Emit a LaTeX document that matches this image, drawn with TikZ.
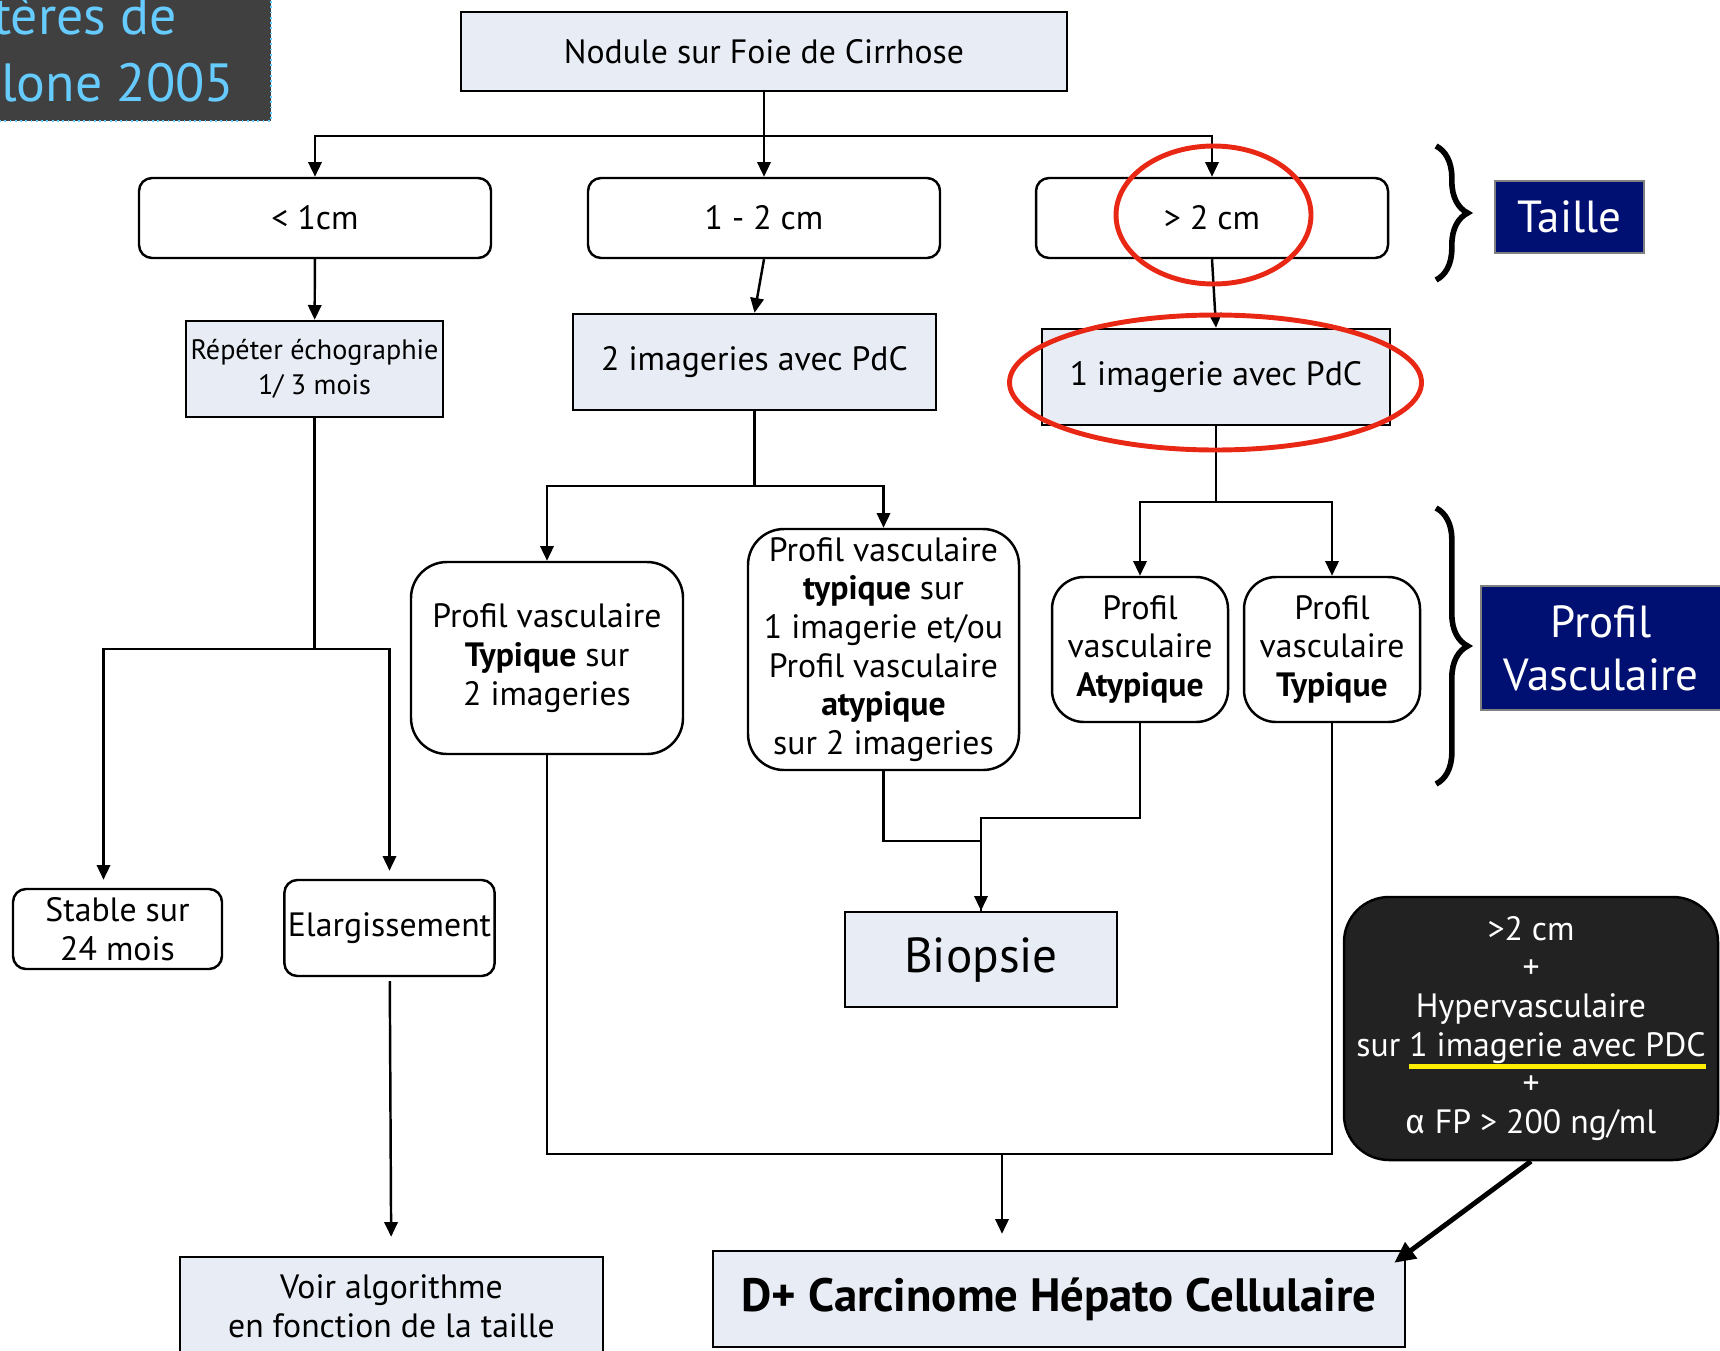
\documentclass[tikz,border=0pt]{standalone}
\usepackage{fontspec}
\setmainfont{PT Sans}
\newfontfamily\greekfont{Fira Sans}
\usepackage{tikz}
\usetikzlibrary{arrows.meta,decorations.pathreplacing}
\usepackage{xcolor}
\definecolor{boxfill}{RGB}{232,236,244}
\definecolor{taillenavy}{RGB}{0,16,114}
\definecolor{titlegray}{RGB}{64,64,64}
\definecolor{titlecyan}{RGB}{102,204,255}
\definecolor{nightbox}{RGB}{34,34,34}
\definecolor{circlered}{RGB}{232,40,20}
\definecolor{hlyellow}{RGB}{255,238,0}
\newlength{\ylen}
\newcommand{\yline}[1]{\settowidth{\ylen}{#1}\rlap{\textcolor{hlyellow}{\rule[-3.5pt]{\ylen}{1.4pt}}}#1}

\begin{document}
\begin{tikzpicture}[x=0.1mm,y=-0.1mm,line width=0.7pt,>={Triangle[length=4.2pt,width=3.8pt]},
  every node/.style={font=\fontsize{9.6}{11}\selectfont,inner sep=1pt,align=center},
  plain/.style={draw,fill=boxfill},
  sizebox/.style={draw,rounded corners=1.3mm,minimum width=35.2mm,minimum height=8mm},
  profil/.style={draw,rounded corners=3.2mm},
  tag/.style={draw=gray,fill=taillenavy,text=white,font=\fontsize{12.8}{15}\selectfont},
  ring/.style={draw=circlered,line width=1.4pt},
  gap/.style={shorten >=0.8mm}]
\useasboundingbox (0,0) rectangle (1720,1350);
\clip (0,0) rectangle (1720,1350);

% title block, cut by the page edge
\fill[titlegray] (-20,-20) rectangle (271,121);
\draw[titlecyan,densely dotted,line width=0.5pt] (271,-20) -- (271,121) -- (-20,121);
\node[anchor=base west,inner sep=0pt,text=titlecyan,font=\fontsize{15.3}{18}\selectfont] (ttl1) at (-8,35) {tères de};
\node[anchor=base west,inner sep=0pt,text=titlecyan,font=\fontsize{15.3}{18}\selectfont] (ttl2) at (0,101) {lone 2005};

\node[plain,minimum width=60.6mm,minimum height=7.9mm] (nodule) at (764,51.5) {Nodule sur Foie de Cirrhose};
\node[sizebox] (lt1) at (315,218) {< 1cm};
\node[sizebox] (mid) at (764,218) {1 - 2 cm};
\node[sizebox] (gt2) at (1212,218) {> 2 cm};

\node[plain,minimum width=25.7mm,minimum height=9.6mm,font=\fontsize{8}{10}\selectfont] (rep) at (314.5,369) {Répéter échographie\\1/ 3 mois};
\node[plain,minimum width=36.3mm,minimum height=9.6mm] (two) at (754.5,362) {2 imageries avec PdC};
\node[plain,minimum width=34.8mm,minimum height=9.6mm] (one) at (1216,377) {1 imagerie avec PdC};

\node[draw,rounded corners=1.3mm,minimum width=20.9mm,minimum height=8mm] (stable) at (117.5,929) {Stable sur\\24 mois};
\node[draw,rounded corners=1.3mm,minimum width=20.9mm,minimum height=9.6mm] (elarg) at (389.5,928) {Elargissement};
\node[plain,minimum width=42.3mm,minimum height=9.8mm] (voir) at (391.5,1306) {Voir algorithme\\en fonction de la taille};

\node[profil,rounded corners=3.6mm,minimum width=27.2mm,minimum height=19.2mm] (typ2) at (547,658) {Profil vasculaire\\\textbf{Typique} sur\\2 imageries};
\node[profil,rounded corners=3.6mm,minimum width=27.1mm,minimum height=24.1mm] (typat) at (883.5,649.5) {Profil vasculaire\\\textbf{typique} sur\\1 imagerie et/ou\\Profil vasculaire\\\textbf{atypique}\\sur 2 imageries};
\node[profil,minimum width=17.6mm,minimum height=14.5mm] (atyp) at (1140,649.5) {Profil\\vasculaire\\\textbf{Atypique}};
\node[profil,minimum width=17.6mm,minimum height=14.5mm] (typ1) at (1332,649.5) {Profil\\vasculaire\\\textbf{Typique}};

\node[plain,minimum width=27.2mm,minimum height=9.5mm,font=\fontsize{14}{17}\selectfont] (biop) at (981,959.5) {Biopsie};
\node[plain,minimum width=69.2mm,minimum height=9.6mm,font=\bfseries\fontsize{13.3}{16}\selectfont] (chc) at (1059,1299) {D+ Carcinome Hépato Cellulaire};
\node[draw,fill=nightbox,text=white,rounded corners=4.5mm,minimum width=37.4mm,minimum height=26.3mm] (hyp) at (1531,1028.5) {>2 cm\\+\\Hypervasculaire\\sur \yline{1 imagerie avec PDC}\\+\\{\greekfont α} FP > 200 ng/ml};

\node[tag,minimum width=14.9mm,minimum height=7.2mm] (taille) at (1569.5,217) {Taille};
\node[tag,minimum width=24mm,minimum height=12.4mm] (pv) at (1601,648) {Profil\\Vasculaire};
\draw[decorate,decoration={brace,amplitude=9pt},line width=1.6pt] (1436,146) -- (1436,280);
\draw[decorate,decoration={brace,amplitude=9pt},line width=1.6pt] (1436,508) -- (1436,784);

% connectors
\draw[->] (nodule) -- (mid);
\draw[->] (nodule.south) -- ++(0,44) -| (lt1.north);
\draw[->] (nodule.south) -- ++(0,44) -| (gt2.north);
\draw[->] (lt1) -- (rep);
\draw[->] (mid.south) -- (two.north);
\draw[->] (gt2.south) -- (one.north);

\draw[->,gap] (rep.south) -- ++(0,231) -| ([xshift=-1.4mm]stable.north);
\draw[->,gap] (rep.south) -- ++(0,231) -| (elarg.north);
\draw[->,shorten >=1.9mm,shorten <=0.4mm] (elarg) -- (voir);

\draw[->] (two.south) -- ++(0,75) -| (typ2.north);
\draw[->] (two.south) -- ++(0,75) -| (typat.north);
\draw[->] (one.south) -- ++(0,76) -| (atyp.north);
\draw[->] (one.south) -- ++(0,76) -| (typ1.north);

\draw[->] (atyp.south) -- ++(0,95) -| (biop.north);
\draw (typat.south) -- ++(0,70) -| (biop.north);

\coordinate (join) at (1002,1154);
\draw (typ2.south) |- (join) -| (typ1.south);
\draw[->,shorten >=1.6mm] (join) -- (join |- chc.north);
\draw[->,line width=1.4pt,>={Triangle[length=6pt,width=5.5pt]}] (hyp.south) -- ([shift={(-12,13)}]chc.north east);

% red rings
\draw[ring] (1213.5,215) ellipse [x radius=9.75mm, y radius=6.9mm];
\draw[ring] (1215.5,382.5) ellipse [x radius=20.6mm, y radius=6.75mm];
\end{tikzpicture}
\end{document}
